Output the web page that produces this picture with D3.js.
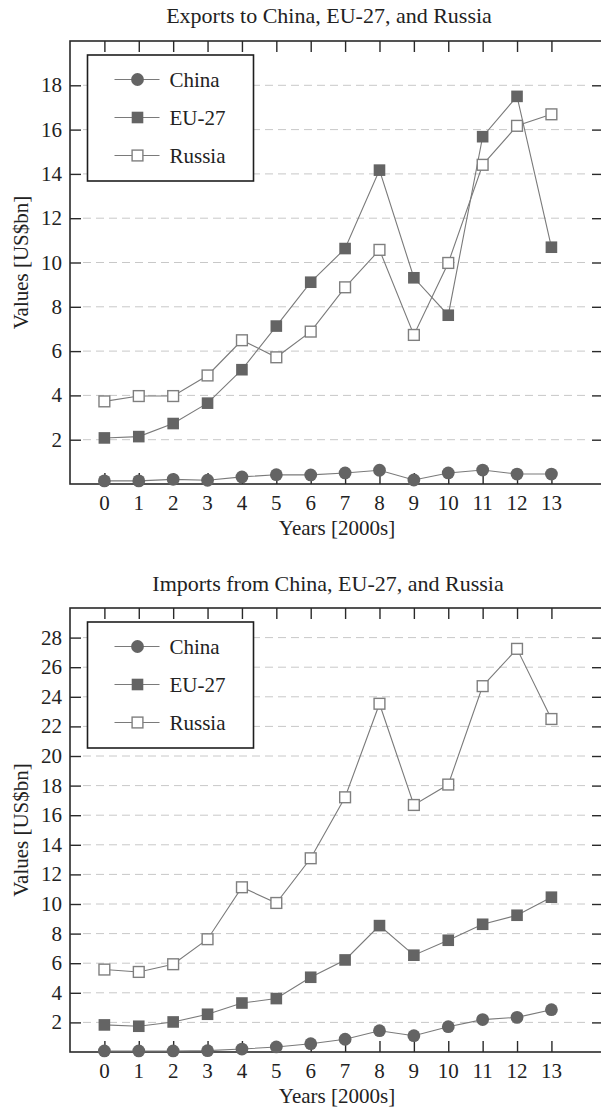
<!DOCTYPE html>
<html>
<head>
<meta charset="utf-8">
<script src="https://cdn.jsdelivr.net/npm/d3@7"></script>
<style>
  html, body { margin: 0; padding: 0; background: #fff; }
  svg { display: block; }
  text { font-family: "Liberation Serif", "Times New Roman", serif; fill: #222; }
</style>
</head>
<body>
<svg id="chart" width="601" height="1113"></svg>
<script>
// Years since 2000
const years = [0, 1, 2, 3, 4, 5, 6, 7, 8, 9, 10, 11, 12, 13];
const seriesNames = ["China", "EU-27", "Russia"];

// Exports, US$bn
const exportsChina  = [0.14, 0.14, 0.21, 0.17, 0.32, 0.42, 0.41, 0.50, 0.62, 0.18, 0.50, 0.63, 0.45, 0.45];
const exportsEU     = [2.08, 2.14, 2.73, 3.65, 5.16, 7.13, 9.11, 10.63, 14.17, 9.31, 7.62, 15.68, 17.50, 10.69];
const exportsRussia = [3.73, 3.97, 3.97, 4.90, 6.49, 5.72, 6.88, 8.88, 10.57, 6.73, 9.98, 14.41, 16.17, 16.69];

// Imports, US$bn
const importsChina  = [0.07, 0.07, 0.07, 0.09, 0.20, 0.34, 0.56, 0.86, 1.44, 1.10, 1.71, 2.19, 2.34, 2.86];
const importsEU     = [1.83, 1.74, 2.03, 2.55, 3.31, 3.61, 5.05, 6.22, 8.54, 6.54, 7.55, 8.63, 9.24, 10.46];
const importsRussia = [5.57, 5.41, 5.93, 7.62, 11.13, 10.07, 13.09, 17.21, 23.53, 16.69, 18.07, 24.72, 27.24, 22.50];

const exportTicks = [2, 4, 6, 8, 10, 12, 14, 16, 18];
const importTicks = [2, 4, 6, 8, 10, 12, 14, 16, 18, 20, 22, 24, 26, 28];

const svg = d3.select("#chart");
const FONT = 21;
const TITLE_FONT = 22;
const TICK = 11;
const markerFill = "#646464";
const lineColor = "#7a7a7a";

function drawMarker(g, type, x, y) {
  if (type === "circle") {
    g.append("circle").attr("cx", x).attr("cy", y).attr("r", 6.4)
      .attr("fill", markerFill).attr("stroke", "none");
  } else if (type === "filled") {
    g.append("rect").attr("x", x - 5.8).attr("y", y - 5.8)
      .attr("width", 11.6).attr("height", 11.6)
      .attr("fill", markerFill).attr("stroke", "none");
  } else {
    g.append("rect").attr("x", x - 5.4).attr("y", y - 5.4)
      .attr("width", 10.8).attr("height", 10.8)
      .attr("fill", "#fff").attr("stroke", "#7f7f7f").attr("stroke-width", 1.4);
  }
}

function panel(opts) {
  const { top, bottom, left, right, yMax, yTicks, title, titleX, titleY, series } = opts;
  const g = svg.append("g");

  const x = d3.scaleLinear().domain([-1, 14.5]).range([left, right]);
  const y = d3.scaleLinear().domain([0, yMax]).range([bottom, top]);

  // dashed horizontal grid
  g.append("g").selectAll("line").data(yTicks).join("line")
    .attr("x1", left + TICK + 2).attr("x2", right - TICK - 2)
    .attr("y1", d => y(d)).attr("y2", d => y(d))
    .attr("stroke", "#c8c8c8").attr("stroke-width", 1)
    .attr("stroke-dasharray", "8,5");

  // frame
  g.append("rect").attr("x", left).attr("y", top)
    .attr("width", right - left).attr("height", bottom - top)
    .attr("fill", "none").attr("stroke", "#2a2a2a").attr("stroke-width", 1.6);

  // inward ticks on all four sides
  const xAxisB = d3.axisBottom(x).tickValues(years).tickSizeInner(-TICK).tickSizeOuter(0).tickFormat("");
  const xAxisT = d3.axisTop(x).tickValues(years).tickSizeInner(-TICK).tickSizeOuter(0).tickFormat("");
  const yAxisL = d3.axisLeft(y).tickValues(yTicks).tickSizeInner(-TICK).tickSizeOuter(0).tickFormat("");
  const yAxisR = d3.axisRight(y).tickValues(yTicks).tickSizeInner(-TICK).tickSizeOuter(0).tickFormat("");
  [[xAxisB, `translate(0,${bottom})`], [xAxisT, `translate(0,${top})`],
   [yAxisL, `translate(${left},0)`], [yAxisR, `translate(${right},0)`]].forEach(([ax, tr]) => {
    const a = g.append("g").attr("transform", tr).call(ax);
    a.select(".domain").remove();
    a.selectAll("line").attr("stroke", "#2a2a2a").attr("stroke-width", 1.4);
  });

  // tick labels
  g.append("g").selectAll("text").data(years).join("text")
    .attr("x", d => x(d)).attr("y", bottom + 26)
    .attr("text-anchor", "middle").attr("font-size", FONT)
    .text(d => d);
  g.append("g").selectAll("text").data(yTicks).join("text")
    .attr("x", left - 8).attr("y", d => y(d) + 7)
    .attr("text-anchor", "end").attr("font-size", FONT)
    .text(d => d);

  // axis titles
  g.append("text").attr("x", 337).attr("y", bottom + 51)
    .attr("text-anchor", "middle").attr("font-size", FONT).text("Years [2000s]");
  g.append("text")
    .attr("transform", `translate(27.5,${(top + bottom) / 2}) rotate(-90)`)
    .attr("text-anchor", "middle").attr("font-size", FONT).text("Values [US$bn]");

  // chart title
  g.append("text").attr("x", titleX).attr("y", titleY)
    .attr("text-anchor", "middle").attr("font-size", TITLE_FONT).text(title);

  // series lines + markers
  const line = d3.line().x((d, i) => x(years[i])).y(d => y(d));
  series.forEach(s => {
    g.append("path").attr("d", line(s.values))
      .attr("fill", "none").attr("stroke", lineColor).attr("stroke-width", 1.1);
  });
  series.forEach(s => {
    const mg = g.append("g");
    s.values.forEach((v, i) => drawMarker(mg, s.marker, x(years[i]), y(v)));
  });

  // legend
  const lg = g.append("g");
  const lx = left + 17.5, ly = top + 14;
  lg.append("rect").attr("x", lx).attr("y", ly).attr("width", 166).attr("height", 126)
    .attr("fill", "#fff").attr("stroke", "#1e1e1e").attr("stroke-width", 1.6);
  series.forEach((s, i) => {
    const cy = ly + 24.5 + i * 38;
    lg.append("line").attr("x1", lx + 27).attr("x2", lx + 72)
      .attr("y1", cy).attr("y2", cy)
      .attr("stroke", lineColor).attr("stroke-width", 1.1);
    drawMarker(lg, s.marker, lx + 50, cy);
    lg.append("text").attr("x", lx + 82).attr("y", cy + 7)
      .attr("font-size", FONT).text(s.name);
  });
}

const markers = ["circle", "filled", "open"];

panel({
  top: 41, bottom: 484, left: 70, right: 603, yMax: 20, yTicks: exportTicks,
  title: "Exports to China, EU-27, and Russia", titleX: 329, titleY: 23,
  series: [exportsChina, exportsEU, exportsRussia].map((v, i) => ({ name: seriesNames[i], values: v, marker: markers[i] }))
});

panel({
  top: 608, bottom: 1052, left: 70, right: 603, yMax: 30, yTicks: importTicks,
  title: "Imports from China, EU-27, and Russia", titleX: 328, titleY: 591,
  series: [importsChina, importsEU, importsRussia].map((v, i) => ({ name: seriesNames[i], values: v, marker: markers[i] }))
});
</script>
</body>
</html>
